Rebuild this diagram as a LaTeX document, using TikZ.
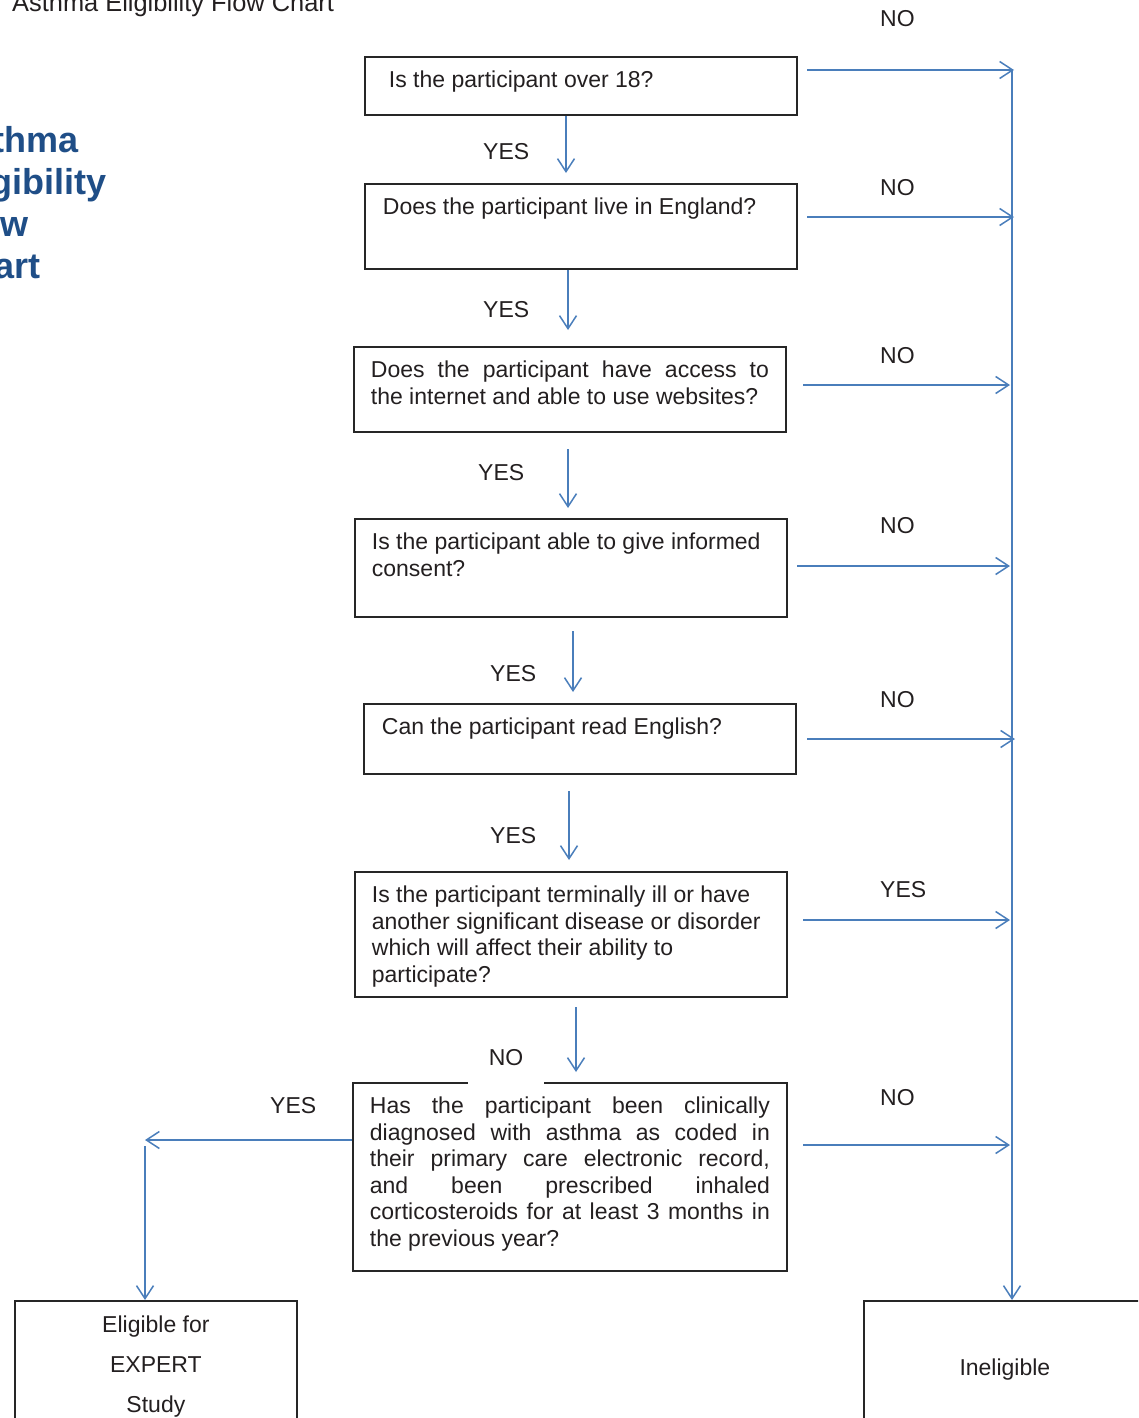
\documentclass[tikz,border=0pt]{standalone}
\usepackage{fontspec}
\setmainfont{Liberation Sans}
\usetikzlibrary{arrows.meta}

\definecolor{ink}{HTML}{231F20}
\definecolor{frame}{HTML}{262626}
\definecolor{flow}{HTML}{4A7EBB}
\definecolor{heading}{HTML}{1F4E87}

% question text: box width, box height, left pad, text width, content
\newcommand\qtext[5]{%
  \parbox[c][#2pt][t]{#1pt}{\vspace*{14pt}\hspace*{#3pt}\parbox[t]{#4pt}{\raggedright #5}}}
% a fully justified line
\newcommand\jline[1]{\makebox[\linewidth][s]{#1}}

\begin{document}
\begin{tikzpicture}[x=1pt,y=-1pt,
  font=\fontsize{23}{26.5}\selectfont, text=ink,
  qbox/.style={draw=frame, line width=1.8pt, inner sep=0pt, anchor=north west},
  lbl/.style={anchor=base west, inner sep=0pt},
  arr/.style={draw=flow, line width=1.5pt, -{Straight Barb[length=13pt,width=17pt]}}]

\useasboundingbox (0,0) rectangle (1138,1418);
\clip (0,0) rectangle (1138,1418);

% headings
\node[anchor=base west, inner sep=0pt, font=\fontsize{25.4}{30}\selectfont] (title) at (12,12)
  {Asthma Eligibility Flow Chart};
\node[anchor=base west, inner sep=0pt, text=heading, font=\fontsize{36}{42.3}\selectfont\bfseries] (head) at (-54,152)
  {\parbox[t]{300pt}{Asthma\\Eligibility\\Flow\\Chart}};

% question boxes
\node[qbox] (b1) at (364,56) {\qtext{432}{58}{24}{386}{Is the participant over 18?}};
\node[qbox] (b2) at (364,183) {\qtext{432}{85}{18}{398}{Does the participant live in England?}};
\node[qbox] (b3) at (353,346) {\qtext{432}{85}{17}{398}{%
  \jline{Does the participant have access to}\\
  the internet and able to use websites?}};
\node[qbox] (b4) at (354,518) {\qtext{432}{98}{17}{398}{%
  Is the participant able to give informed\\
  consent?}};
\node[qbox] (b5) at (363,703) {\qtext{432}{70}{18}{398}{Can the participant read English?}};
\node[qbox] (b6) at (354,871) {\qtext{432}{125}{17}{398}{%
  Is the participant terminally ill or have\\
  another significant disease or disorder\\
  which will affect their ability to\\
  participate?}};
\node[qbox] (b7) at (352,1082) {\qtext{434}{188}{17}{400}{%
  \jline{Has the participant been clinically}\\
  \jline{diagnosed with asthma as coded in}\\
  \jline{their primary care electronic record,}\\
  \jline{and been prescribed inhaled}\\
  \jline{corticosteroids for at least 3 months in}\\
  the previous year?}};

% outcome boxes
\node[qbox] (elig) at (14,1300) {\parbox[c][136pt][t]{282pt}{\vspace*{15.3pt}\centering
  \fontsize{23}{40}\selectfont Eligible for\\EXPERT\\Study}};
\node[qbox] (inel) at (863,1300) {\parbox[c][136pt][t]{282pt}{\vspace*{58.3pt}\centering Ineligible}};

% answers on the downward path
\node[lbl] (y1) at (483,159) {YES};
\node[lbl] (y2) at (483,317) {YES};
\node[lbl] (y3) at (478,480) {YES};
\node[lbl] (y4) at (490,681) {YES};
\node[lbl] (y5) at (490,843) {YES};
\node[anchor=base, inner sep=0pt, fill=white, minimum width=76pt, text depth=19pt] (n6) at (506,1065) {NO};

% answers on the exits
\node[lbl] (r1) at (880,27) {NO};
\node[lbl] (r2) at (880,195) {NO};
\node[lbl] (r3) at (880,363) {NO};
\node[lbl] (r4) at (880,533) {NO};
\node[lbl] (r5) at (880,707) {NO};
\node[lbl] (r6) at (880,897) {YES};
\node[lbl] (r7) at (880,1105) {NO};
\node[lbl] (l7) at (270,1113) {YES};

% downward arrows
\coordinate (t1) at (566,173);
\draw[arr] (b1.south -| t1) -- (t1);
\coordinate (t2) at (568,330);
\draw[arr] (b2.south -| t2) -- (t2);
\coordinate (s3) at (568,449); \coordinate (t3) at (568,508);
\draw[arr] (s3) -- (t3);
\coordinate (s4) at (573,631); \coordinate (t4) at (573,692);
\draw[arr] (s4) -- (t4);
\coordinate (s5) at (569,791); \coordinate (t5) at (569,860);
\draw[arr] (s5) -- (t5);
\coordinate (s6) at (576,1007); \coordinate (t6) at (576,1072);
\draw[arr] (s6) -- (t6);

% exits to the right
\coordinate (h1s) at (807,70);   \coordinate (h1e) at (1014,70);
\coordinate (h2s) at (807,217);  \coordinate (h2e) at (1014,217);
\coordinate (h3s) at (803,385);  \coordinate (h3e) at (1010,385);
\coordinate (h4s) at (797,566);  \coordinate (h4e) at (1010,566);
\coordinate (h5s) at (807,739);  \coordinate (h5e) at (1015,739);
\coordinate (h6s) at (803,920);  \coordinate (h6e) at (1010,920);
\coordinate (h7s) at (803,1145); \coordinate (h7e) at (1010,1145);
\foreach \k in {1,...,7} { \draw[arr] (h\k s) -- (h\k e); }

% collecting line down to the ineligible box
\coordinate (spine) at (1012,70);
\draw[arr] (spine) -- (spine |- inel.north);

% eligible path
\coordinate (lt) at (145,1140);
\draw[arr] (b7.west |- lt) -- (lt);
\coordinate (ld) at (145,1146);
\draw[arr] (ld) -- (ld |- elig.north);

\end{tikzpicture}
\end{document}
